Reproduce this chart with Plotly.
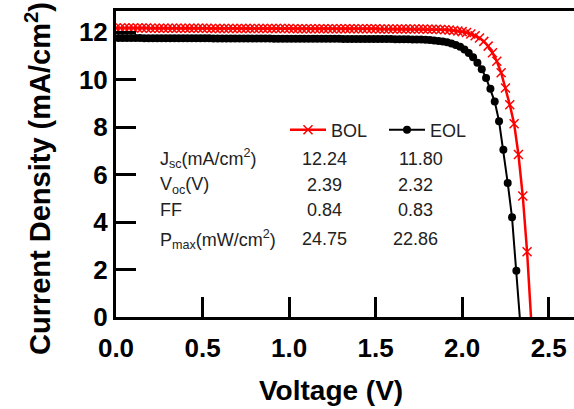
import plotly.graph_objects as go

# ---------------- data ----------------
BOL_V = [0.000, 0.025, 0.050, 0.075, 0.100, 0.125, 0.150, 0.175, 0.200, 0.225,
         0.250, 0.275, 0.300, 0.325, 0.350, 0.375, 0.400, 0.425, 0.450, 0.475,
         0.500, 0.525, 0.550, 0.575, 0.600, 0.625, 0.650, 0.675, 0.700, 0.725,
         0.750, 0.775, 0.800, 0.825, 0.850, 0.875, 0.900, 0.925, 0.950, 0.975,
         1.000, 1.025, 1.050, 1.075, 1.100, 1.125, 1.150, 1.175, 1.200, 1.225,
         1.250, 1.275, 1.300, 1.325, 1.350, 1.375, 1.400, 1.425, 1.450, 1.475,
         1.500, 1.525, 1.550, 1.575, 1.600, 1.625, 1.650, 1.675, 1.700, 1.725,
         1.750, 1.775, 1.800, 1.825, 1.850, 1.875, 1.900, 1.925, 1.950, 1.975,
         2.000, 2.025, 2.050, 2.075, 2.100, 2.125, 2.150, 2.175, 2.200, 2.225,
         2.250, 2.275, 2.300, 2.325, 2.350, 2.375, 2.400]
BOL_J = [12.18, 12.18, 12.18, 12.18, 12.18, 12.18, 12.18, 12.18, 12.17, 12.17,
         12.17, 12.17, 12.17, 12.17, 12.17, 12.17, 12.17, 12.17, 12.17, 12.17,
         12.17, 12.17, 12.16, 12.16, 12.16, 12.16, 12.16, 12.16, 12.16, 12.16,
         12.16, 12.16, 12.16, 12.16, 12.16, 12.16, 12.16, 12.16, 12.16, 12.16,
         12.16, 12.15, 12.15, 12.15, 12.15, 12.15, 12.15, 12.15, 12.15, 12.15,
         12.15, 12.15, 12.15, 12.15, 12.15, 12.15, 12.15, 12.15, 12.15, 12.15,
         12.15, 12.14, 12.14, 12.14, 12.14, 12.14, 12.14, 12.14, 12.14, 12.14,
         12.14, 12.14, 12.13, 12.13, 12.13, 12.12, 12.11, 12.10, 12.08, 12.06,
         12.03, 11.99, 11.93, 11.86, 11.76, 11.62, 11.42, 11.14, 10.78, 10.30,
         9.65, 8.95, 8.15, 6.85, 5.10, 2.75, -0.30]

EOL_V = [0.013, 0.038, 0.063, 0.088, 0.113, 0.138, 0.163, 0.188, 0.213, 0.238,
         0.263, 0.288, 0.313, 0.338, 0.363, 0.388, 0.413, 0.438, 0.463, 0.488,
         0.513, 0.538, 0.563, 0.588, 0.613, 0.638, 0.663, 0.688, 0.713, 0.738,
         0.763, 0.788, 0.813, 0.838, 0.863, 0.888, 0.913, 0.938, 0.963, 0.988,
         1.013, 1.038, 1.063, 1.088, 1.113, 1.138, 1.163, 1.188, 1.213, 1.238,
         1.263, 1.288, 1.313, 1.338, 1.363, 1.388, 1.413, 1.438, 1.463, 1.488,
         1.513, 1.538, 1.563, 1.588, 1.613, 1.638, 1.663, 1.688, 1.713, 1.738,
         1.763, 1.788, 1.813, 1.838, 1.863, 1.888, 1.913, 1.938, 1.963, 1.988,
         2.013, 2.038, 2.063, 2.088, 2.113, 2.138, 2.163, 2.188, 2.213, 2.238,
         2.263, 2.288, 2.313, 2.338]
EOL_J = [11.76, 11.76, 11.76, 11.76, 11.76, 11.76, 11.75, 11.75, 11.75, 11.75,
         11.75, 11.75, 11.75, 11.75, 11.75, 11.75, 11.75, 11.75, 11.75, 11.75,
         11.75, 11.75, 11.74, 11.74, 11.74, 11.74, 11.74, 11.74, 11.74, 11.74,
         11.74, 11.74, 11.74, 11.74, 11.74, 11.74, 11.73, 11.73, 11.73, 11.73,
         11.73, 11.73, 11.73, 11.73, 11.73, 11.73, 11.73, 11.73, 11.73, 11.73,
         11.73, 11.73, 11.72, 11.72, 11.72, 11.72, 11.72, 11.72, 11.72, 11.72,
         11.72, 11.72, 11.72, 11.72, 11.71, 11.71, 11.71, 11.71, 11.70, 11.70,
         11.70, 11.69, 11.68, 11.66, 11.64, 11.61, 11.58, 11.53, 11.47, 11.39,
         11.28, 11.13, 10.95, 10.72, 10.44, 10.08, 9.62, 9.08, 8.25, 7.05,
         5.65, 4.20, 1.95, -0.50]

SERIES = ["BOL", "EOL"]
ROW_LABELS = ["J<sub>sc</sub>(mA/cm<sup>2</sup>)", "V<sub>oc</sub>(V)", "FF",
              "P<sub>max</sub>(mW/cm<sup>2</sup>)"]
BOL_PARAMS = ["12.24", "2.39", "0.84", "24.75"]
EOL_PARAMS = ["11.80", "2.32", "0.83", "22.86"]

X_TICKS = [0.0, 0.5, 1.0, 1.5, 2.0, 2.5]
Y_TICKS = [0, 2, 4, 6, 8, 10, 12]
X_TITLE = "Voltage (V)"
Y_TITLE = "Current Density (mA/cm<sup>2</sup>)"

# ---------------- layout geometry (pixels) ----------------
W, H = 574, 409
ML, MR, MT, MB = 116, 0, 11, 92
PW, PH = W - ML - MR, H - MT - MB


def px(xp):
    return (xp - ML) / PW


def py(yp):
    return (H - MB - yp) / PH


FONT = "Liberation Sans, Arial, sans-serif"

fig = go.Figure()
fig.add_trace(go.Scatter(
    x=EOL_V, y=EOL_J, name=SERIES[1], mode="lines+markers",
    line=dict(color="black", width=2),
    marker=dict(symbol="circle", size=8, color="black"),
))
fig.add_trace(go.Scatter(
    x=BOL_V, y=BOL_J, name=SERIES[0], mode="lines+markers",
    line=dict(color="#ff0000", width=2.5),
    marker=dict(symbol="x-thin", size=9, color="#ff0000",
                line=dict(color="#ff0000", width=1.5)),
))

axis_common = dict(
    showline=True, linewidth=3, linecolor="black",
    ticks="inside", ticklen=20, tickwidth=3, tickcolor="black",
    showgrid=False, zeroline=False,
    tickfont=dict(family=FONT, size=26, color="black", weight="bold"),
)

fig.update_layout(
    width=W, height=H,
    margin=dict(l=ML, r=MR, t=MT, b=MB, pad=0),
    paper_bgcolor="white", plot_bgcolor="white",
    font=dict(family=FONT, color="#222222"),
    xaxis=dict(range=[0, 2.646], tickvals=X_TICKS, tickformat=".1f",
               mirror=True, ticklabelstandoff=6, **axis_common),
    yaxis=dict(range=[0, 12.9], tickvals=Y_TICKS, mirror=False, **axis_common),
    legend=dict(orientation="h", x=px(285), y=py(130), xanchor="left",
                yanchor="middle", traceorder="reversed", itemwidth=36,
                font=dict(family=FONT, size=18, color="#222222"),
                bgcolor="rgba(0,0,0,0)", entrywidth=48, entrywidthmode="pixels"),
    showlegend=True,
)

annotations = []
annotations.append(dict(text=Y_TITLE, xref="paper", yref="paper", x=px(38), y=py(179),
                        textangle=-90, showarrow=False, xanchor="center", yanchor="middle",
                        font=dict(family=FONT, size=29, color="black", weight="bold")))
annotations.append(dict(text=X_TITLE, xref="paper", yref="paper", x=px(331), y=py(390),
                        showarrow=False, xanchor="center", yanchor="middle",
                        font=dict(family=FONT, size=28, color="black", weight="bold")))

row_y = [159, 185, 209.6, 239.3]
label_x = 158
bol_x = [324.5, 324.5, 324.5, 324.5]
eol_x = [421, 415, 415, 415]
tfont = dict(family=FONT, size=18, color="#222222")
for i in range(4):
    annotations.append(dict(text=ROW_LABELS[i], xref="paper", yref="paper",
                            x=px(label_x), y=py(row_y[i]), showarrow=False,
                            xanchor="left", yanchor="middle", font=tfont))
    annotations.append(dict(text=BOL_PARAMS[i], xref="paper", yref="paper",
                            x=px(bol_x[i]), y=py(row_y[i]), showarrow=False,
                            xanchor="center", yanchor="middle", font=tfont))
    annotations.append(dict(text=EOL_PARAMS[i], xref="paper", yref="paper",
                            x=px(eol_x[i]), y=py(row_y[i]), showarrow=False,
                            xanchor="center", yanchor="middle", font=tfont))
fig.update_layout(annotations=annotations)

fig.write_html("out.html")
